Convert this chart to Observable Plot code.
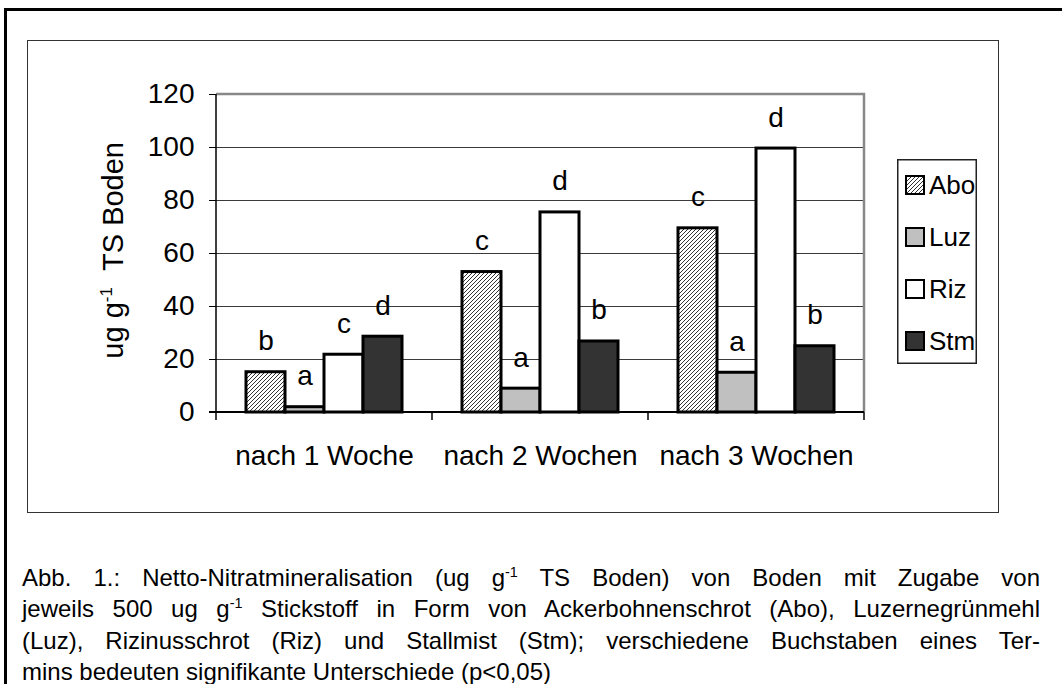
<!DOCTYPE html>
<html>
<head>
<meta charset="utf-8">
<script src="https://cdn.jsdelivr.net/npm/d3@7"></script>
<script src="https://cdn.jsdelivr.net/npm/@observablehq/plot@0.6"></script>
<style>
  html, body { margin: 0; padding: 0; background: #fff; }
  #page { position: relative; width: 1062px; height: 684px; overflow: hidden; font-family: "Liberation Sans", Arial, sans-serif; color: #000; }
  #outer { position: absolute; left: 4px; top: 8px; width: 1120px; height: 740px; border: 3px solid #000; }
  #inner { position: absolute; left: 27px; top: 40px; width: 970px; height: 471px; border: 1.5px solid #333; }
  #chart { position: absolute; left: 0; top: 0; }
  #legend { position: absolute; left: 897px; top: 159px; }
  #caption { position: absolute; left: 22px; top: 562px; width: 1018px; font-size: 24px; line-height: 31.3px; }
  #caption .j { text-align: justify; text-align-last: justify; white-space: nowrap; }
  #caption .l { text-align: left; }
  #caption sup { font-size: 0.6em; vertical-align: 0.65em; line-height: 0; }
</style>
</head>
<body>
<svg width="0" height="0" style="position:absolute">
  <defs>
    <pattern id="hatch" patternUnits="userSpaceOnUse" width="4" height="4">
      <rect width="4" height="4" fill="#fff"></rect>
      <path d="M-1,1 l2,-2 M0,4 l4,-4 M3,5 l2,-2" stroke="#333" stroke-width="1"></path>
    </pattern>
  </defs>
</svg>
<div id="page">
  <div id="outer"></div>
  <div id="inner"></div>
  <div id="chart"></div>
  <div id="legend"></div>
  <div id="caption">
    <div class="j">Abb. 1.: Netto-Nitratmineralisation (ug g<sup>-1</sup> TS Boden) von Boden mit Zugabe von</div>
    <div class="j">jeweils 500 ug g<sup>-1</sup> Stickstoff in Form von Ackerbohnenschrot (Abo), Luzernegrünmehl</div>
    <div class="j">(Luz), Rizinusschrot (Riz) und Stallmist (Stm); verschiedene Buchstaben eines Ter-</div>
    <div class="l">mins bedeuten signifikante Unterschiede (p&lt;0,05)</div>
  </div>
</div>
<script>
// ---- data ----
const weeks = ["nach 1 Woche", "nach 2 Wochen", "nach 3 Wochen"];
const series = ["Abo", "Luz", "Riz", "Stm"];
const abo = [15.2, 53, 69.5];
const luz = [2, 9, 15];
const riz = [21.8, 75.5, 99.6];
const stm = [28.6, 26.8, 25];
const lettersAbo = ["b", "c", "c"];
const lettersLuz = ["a", "a", "a"];
const lettersRiz = ["c", "d", "d"];
const lettersStm = ["d", "b", "b"];
const yTicks = [0, 20, 40, 60, 80, 100, 120];
const fills = ["url(#hatch)", "#c0c0c0", "#ffffff", "#333333"];

const values = [abo, luz, riz, stm];
const letters = [lettersAbo, lettersLuz, lettersRiz, lettersStm];
const data = [];
weeks.forEach((w, i) => series.forEach((s, j) => data.push({week: w, series: s, value: values[j][i], letter: letters[j][i]})));

const FONT = "'Liberation Sans', Arial, sans-serif";

const plot = Plot.plot({
  width: 1062,
  height: 520,
  marginLeft: 215,
  marginRight: 197,
  marginTop: 94,
  marginBottom: 108,
  style: {fontFamily: FONT, fontSize: "28px", color: "#000", background: "transparent", overflow: "visible"},
  fx: {domain: weeks, padding: 0, label: null},
  x: {domain: series, paddingInner: 0, paddingOuter: 0.75, axis: null},
  y: {domain: [0, 120], label: null},
  color: {domain: series, range: fills},
  marks: [
    Plot.gridY(yTicks, {stroke: "#3a3a3a", strokeOpacity: 1, strokeWidth: 1}),
    Plot.barY(data, {fx: "week", x: "series", y: "value", fill: "series", stroke: "#000", strokeWidth: 3, inset: 0}),
    Plot.text(data, {fx: "week", x: "series", y: "value", text: "letter", lineAnchor: "bottom", dy: -22, fontSize: 28}),
    Plot.axisY(yTicks, {tickSize: 7, tickPadding: 15, label: null, fontSize: 28, stroke: "#000"}),
    Plot.axisFx({anchor: "bottom", tickSize: 0, tickPadding: 33, label: null, fontSize: 28})
  ]
});
document.getElementById("chart").appendChild(plot);

// frame lines and category boundary ticks from the plot's own scales
const fx = plot.scale("fx"), y = plot.scale("y");
const xL = fx.apply(weeks[0]);
const xR = fx.apply(weeks[weeks.length - 1]) + fx.bandwidth;
const yT = y.apply(yTicks[yTicks.length - 1]);
const y0 = y.apply(0);
const svg = d3.select(plot);
const g = svg.append("g");
g.append("path").attr("d", `M${xL},${yT}H${xR}V${y0}`).attr("fill", "none").attr("stroke", "#888").attr("stroke-width", 2.5);
g.append("line").attr("x1", xL).attr("x2", xL).attr("y1", yT).attr("y2", y0 + 8).attr("stroke", "#000").attr("stroke-width", 1.5);
g.append("line").attr("x1", xL - 7).attr("x2", xR).attr("y1", y0).attr("y2", y0).attr("stroke", "#000").attr("stroke-width", 2);
weeks.forEach(w => {
  const xb = fx.apply(w) + fx.bandwidth;
  g.append("line").attr("x1", xb).attr("x2", xb).attr("y1", y0).attr("y2", y0 + 8).attr("stroke", "#000").attr("stroke-width", 1.5);
});

// y axis title with superscript
const t = svg.append("text")
  .attr("transform", "translate(123,142) rotate(-90)")
  .attr("text-anchor", "end")
  .attr("font-family", FONT)
  .attr("font-size", 29)
  .attr("fill", "#000");
t.append("tspan").text("ug g");
t.append("tspan").attr("font-size", 17).attr("dy", -11).text("-1");
t.append("tspan").attr("dy", 11).text("\u00a0\u00a0TS Boden");

// legend
const LW = 80, LH = 205, rowH = 52, row0 = 26;
const lg = d3.select("#legend").append("svg").attr("width", LW).attr("height", LH)
  .style("overflow", "visible");
lg.append("rect").attr("x", 0.75).attr("y", 0.75).attr("width", LW - 1.5).attr("height", LH - 1.5)
  .attr("fill", "#fff").attr("stroke", "#222").attr("stroke-width", 1.5);
series.forEach((s, i) => {
  const cy = row0 + i * rowH;
  lg.append("rect").attr("x", 9).attr("y", cy - 9).attr("width", 18).attr("height", 18)
    .attr("fill", fills[i]).attr("stroke", "#000").attr("stroke-width", 2);
  lg.append("text").attr("x", 32).attr("y", cy).attr("dy", "0.36em")
    .attr("font-family", FONT).attr("font-size", 26).attr("fill", "#000").text(s);
});
</script>
</body>
</html>
